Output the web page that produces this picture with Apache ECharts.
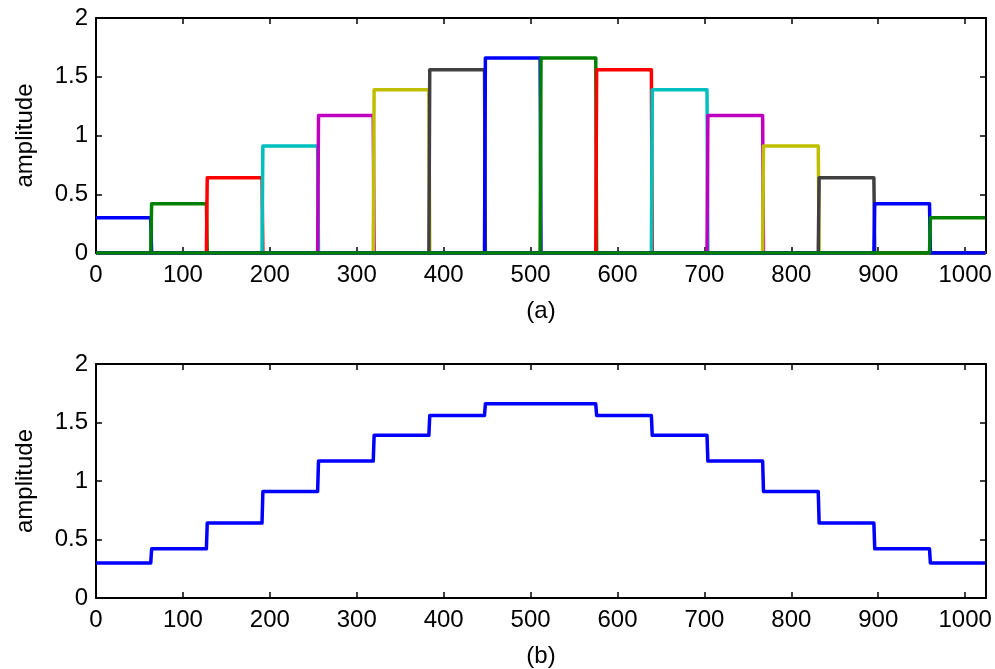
<!DOCTYPE html>
<html>
<head>
<meta charset="utf-8">
<script src="https://cdn.jsdelivr.net/npm/echarts@6/dist/echarts.min.js"></script>
<style>
html,body{margin:0;padding:0;background:#fff;}
#chart{width:995px;height:669px;}
</style>
</head>
<body>
<div id="chart"></div>
<script>
// ---- data ----
const amplitudes = [0.30, 0.42, 0.64, 0.91, 1.17, 1.39, 1.56, 1.66, 1.66, 1.56, 1.39, 1.17, 0.91, 0.64, 0.42, 0.30];
const segmentLength = 64;
const sampleCount = 1024;
const pulseColors = ['#0000ff', '#008000', '#ff0000', '#00bfbf', '#bf00bf', '#bfbf00', '#404040'];
const panelNames = ['(a)', '(b)'];
const yAxisName = 'amplitude';

// ---- build series ----
const lastSample = sampleCount - 1;
function pulseData(k) {
  const start = k * segmentLength, end = start + segmentLength - 1;
  const v = amplitudes[k];
  const d = [];
  if (start > 0) { d.push([0, 0]); d.push([start - 1, 0]); }
  d.push([start, v]); d.push([end, v]);
  if (end < lastSample) { d.push([end + 1, 0]); d.push([lastSample, 0]); }
  return d;
}
function sumData() {
  const d = [];
  amplitudes.forEach((v, k) => {
    const start = k * segmentLength;
    d.push([start, v]); d.push([start + segmentLength - 1, v]);
  });
  return d;
}

const FONT = 'Liberation Sans, Arial, Helvetica, sans-serif';
const LABEL_SIZE = 24;
const axisLineStyle = { color: '#000', width: 2 };
const tickStyle = { color: '#000', width: 1.5 };

function xAxes(gridIndex, name) {
  return [
    {
      type: 'value', gridIndex, min: 0, max: sampleCount, interval: 100, position: 'bottom',
      name, nameLocation: 'middle', nameGap: 46,
      nameTextStyle: { color: '#000', fontSize: LABEL_SIZE, fontFamily: FONT },
      axisLine: { show: true, onZero: false, lineStyle: axisLineStyle },
      axisTick: { show: true, inside: true, length: 6, lineStyle: tickStyle },
      axisLabel: { color: '#000', fontSize: LABEL_SIZE, fontFamily: FONT, margin: 10, showMaxLabel: false,
        formatter: v => (v % 100 === 0 ? String(v) : '') },
      splitLine: { show: false }
    },
    {
      type: 'value', gridIndex, min: 0, max: sampleCount, interval: 100, position: 'top',
      axisLine: { show: true, onZero: false, lineStyle: axisLineStyle },
      axisTick: { show: true, inside: true, length: 6, lineStyle: tickStyle },
      axisLabel: { show: false }, splitLine: { show: false }
    }
  ];
}
function yAxes(gridIndex) {
  return [
    {
      type: 'value', gridIndex, min: 0, max: 2, interval: 0.5, position: 'left',
      name: yAxisName, nameLocation: 'middle', nameGap: 59, nameRotate: 90,
      nameTextStyle: { color: '#000', fontSize: 24, fontFamily: FONT },
      axisLine: { show: true, onZero: false, lineStyle: axisLineStyle },
      axisTick: { show: true, inside: true, length: 6, lineStyle: tickStyle },
      axisLabel: { color: '#000', fontSize: LABEL_SIZE, fontFamily: FONT, margin: 8 },
      splitLine: { show: false }
    },
    {
      type: 'value', gridIndex, min: 0, max: 2, interval: 0.5, position: 'right',
      axisLine: { show: true, onZero: false, lineStyle: axisLineStyle },
      axisTick: { show: true, inside: true, length: 6, lineStyle: tickStyle },
      axisLabel: { show: false }, splitLine: { show: false }
    }
  ];
}

const series = [];
amplitudes.forEach((v, k) => {
  series.push({
    type: 'line', xAxisIndex: 0, yAxisIndex: 0, data: pulseData(k),
    showSymbol: false, symbol: 'none', silent: true,
    lineStyle: { color: pulseColors[k % pulseColors.length], width: 3.5, join: 'round' }
  });
});
series.push({
  type: 'line', xAxisIndex: 2, yAxisIndex: 2, data: sumData(),
  showSymbol: false, symbol: 'none', silent: true,
  lineStyle: { color: '#0000ff', width: 3.5, join: 'round' }
});

const chart = echarts.init(document.getElementById('chart'), null, { renderer: 'canvas' });
chart.setOption({
  animation: false,
  backgroundColor: '#fff',
  grid: [
    { left: 96, right: 9, top: 18, height: 235 },
    { left: 96, right: 9, top: 364, height: 235 }
  ],
  xAxis: [...xAxes(0, panelNames[0]), ...xAxes(1, panelNames[1])],
  yAxis: [...yAxes(0), ...yAxes(1)],
  series
});
</script>
</body>
</html>
